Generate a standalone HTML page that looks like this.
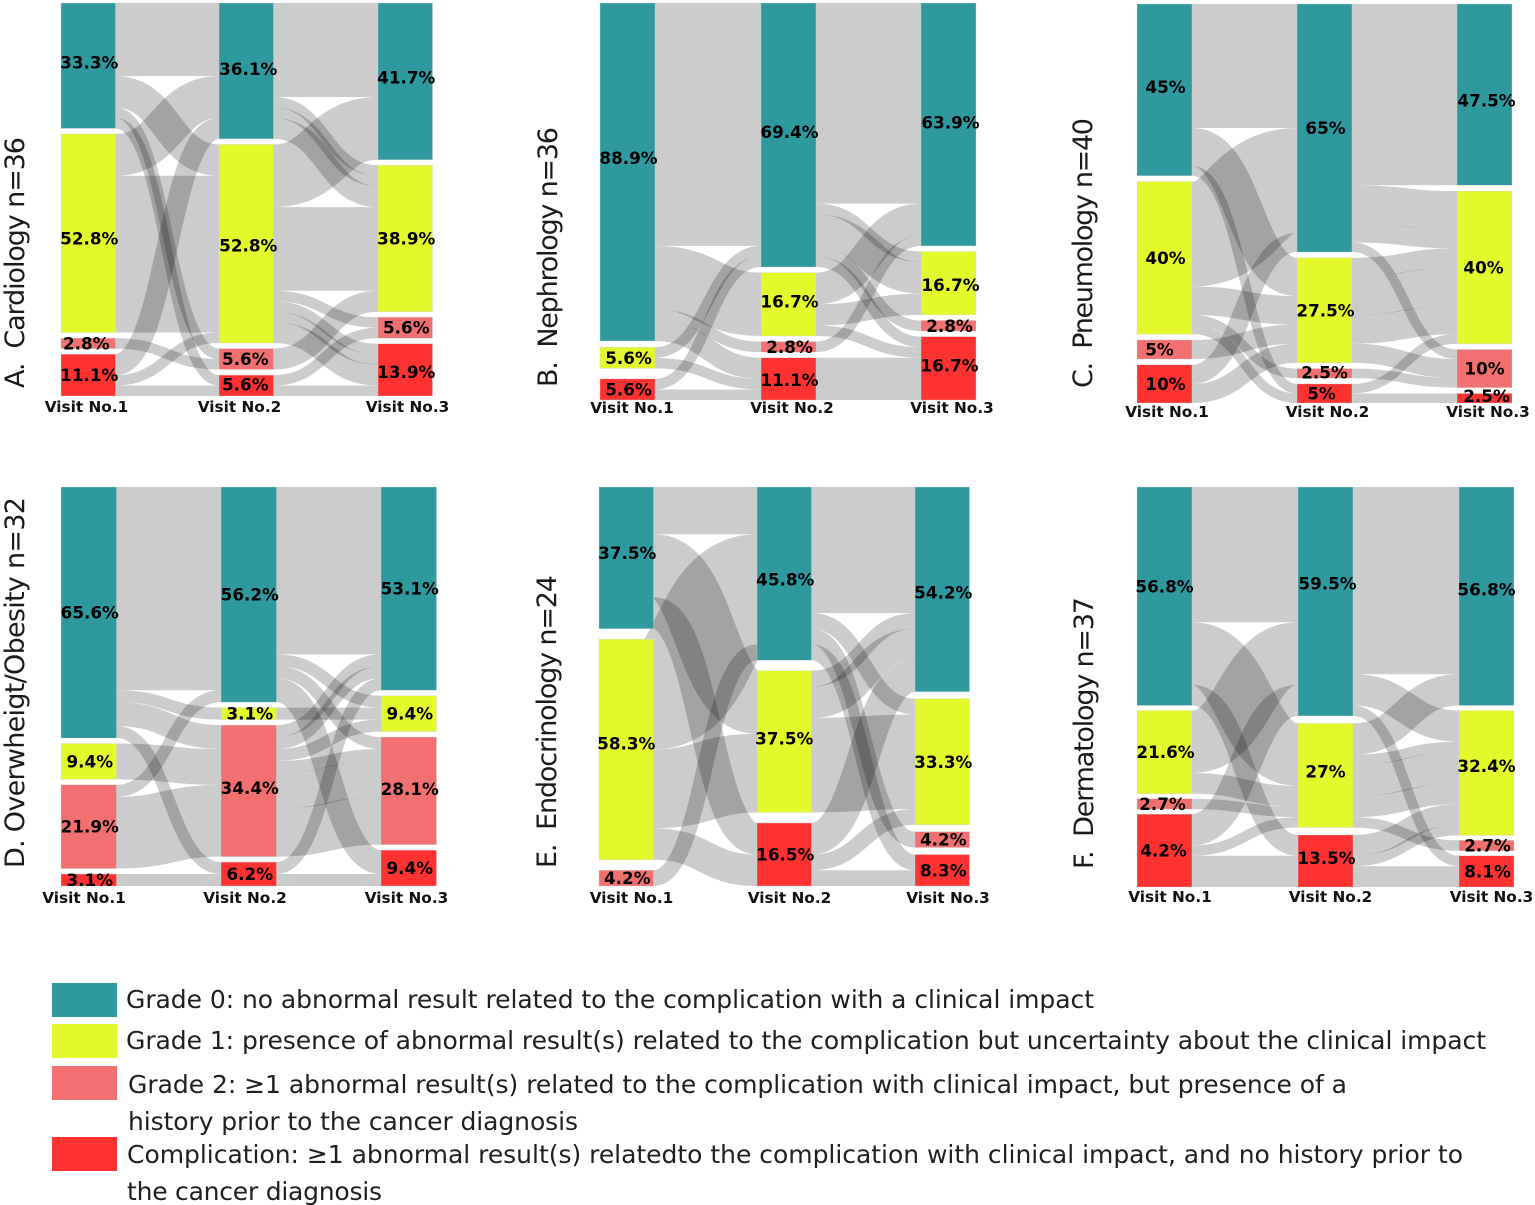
<!DOCTYPE html>
<html lang="en">
<head>
<meta charset="utf-8">
<title>Sankey diagrams of complication grades across three visits</title>
<style>
html,body{margin:0;padding:0;background:#fff;}
svg{display:block;}
.title{font-family:"DejaVu Sans",sans-serif;font-size:27px;fill:#1a1a1a;}
.legend-text{font-family:"DejaVu Sans",sans-serif;font-size:25px;fill:#1f1f1f;}
.visit{font-family:"DejaVu Sans",sans-serif;font-weight:bold;font-size:15.3px;fill:#111;text-anchor:middle;}
.pct{font-family:"DejaVu Sans",sans-serif;font-weight:bold;font-size:16.8px;fill:#000;text-anchor:middle;}
</style>
</head>
<body>
<svg id="chart" xmlns="http://www.w3.org/2000/svg" width="1535" height="1205" viewBox="0 0 1535 1205">
  <rect x="0" y="0" width="1535" height="1205" fill="#ffffff"/>

  <text class="title" transform="translate(24,388) rotate(-90)" textLength="251" xml:space="preserve">A.  Cardiology n=36</text>
  <text class="title" transform="translate(557,387) rotate(-90)" textLength="260" xml:space="preserve">B.  Nephrology n=36</text>
  <text class="title" transform="translate(1092,388) rotate(-90)" textLength="270" xml:space="preserve">C.  Pneumology n=40</text>
  <text class="title" transform="translate(24,868) rotate(-90)" textLength="371" xml:space="preserve">D. Overwheigt/Obesity n=32</text>
  <text class="title" transform="translate(556,868) rotate(-90)" textLength="293" xml:space="preserve">E.  Endocrinology n=24</text>
  <text class="title" transform="translate(1093,869) rotate(-90)" textLength="272" xml:space="preserve">F.  Dermatology n=37</text>

  <g id="panels"></g>

  <g>
    <rect x="52" y="983" width="65" height="34" fill="#2e9aa0"/>
    <rect x="52" y="1024" width="65" height="34" fill="#e4f92b"/>
    <rect x="52" y="1066" width="65" height="34" fill="#f27070"/>
    <rect x="52" y="1137" width="65" height="34" fill="#ff3232"/>
    <text class="legend-text" x="126" y="1008" textLength="968">Grade 0: no abnormal result related to the complication with a clinical impact</text>
    <text class="legend-text" x="126" y="1049" textLength="1360">Grade 1: presence of abnormal result(s) related to the complication but uncertainty about the clinical impact</text>
    <text class="legend-text" x="128" y="1093" textLength="1219">Grade 2: ≥1 abnormal result(s) related to the complication with clinical impact, but presence of a</text>
    <text class="legend-text" x="128" y="1130" textLength="450">history prior to the cancer diagnosis</text>
    <text class="legend-text" x="127" y="1163" textLength="1336">Complication: ≥1 abnormal result(s) relatedto the complication with clinical impact, and no history prior to</text>
    <text class="legend-text" x="127" y="1200" textLength="255">the cancer diagnosis</text>
  </g>
</svg>

<script>
/* ---------- data: patient flows [fromGrade, toGrade, patients], grades 0..3 ---------- */
const visitLabels = ["Visit No.1", "Visit No.2", "Visit No.3"];
const gradeKeys = ["grade-0", "grade-1", "grade-2", "complication"];

const cardiologyFlows1 = [[0,0,7],[0,1,3],[0,2,1],[0,3,1],[1,0,4],[1,1,15],[2,2,1],[3,0,2],[3,1,1],[3,3,1]];
const cardiologyFlows2 = [[0,0,9],[0,1,1],[0,1,1],[0,1,2],[1,0,6],[1,1,8],[1,2,1],[1,3,1],[1,3,1],[1,3,2],[2,1,2],[3,2,1],[3,3,1]];
const cardiologyLabels = [["33.3%","52.8%","2.8%","11.1%"],["36.1%","52.8%","5.6%","5.6%"],["41.7%","38.9%","5.6%","13.9%"]];

const nephrologyFlows1 = [[0,0,23],[0,1,6],[0,2,1],[0,3,2],[1,0,1],[1,3,1],[3,0,1],[3,3,1]];
const nephrologyFlows2 = [[0,0,19],[0,1,1],[0,1,3],[0,2,1],[0,3,1],[1,0,3],[1,1,2],[1,3,1],[2,0,1],[3,3,4]];
const nephrologyLabels = [["88.9%","5.6%","","5.6%"],["69.4%","16.7%","2.8%","11.1%"],["63.9%","16.7%","2.8%","16.7%"]];

const pneumologyFlows1 = [[0,0,13],[0,1,4],[0,3,1],[1,0,11],[1,1,3],[1,2,1],[1,3,1],[2,1,2],[3,0,2],[3,1,2]];
const pneumologyFlows2 = [[0,0,19],[0,1,4],[0,1,2],[0,2,1],[1,1,2],[1,1,4],[1,1,3],[1,2,2],[2,2,1],[3,1,1],[3,3,1]];
const pneumologyLabels = [["45%","40%","5%","10%"],["65%","27.5%","2.5%","5%"],["47.5%","40%","10%","2.5%"]];

const obesityFlows1 = [[0,0,17],[0,1,1],[0,2,2],[0,3,1],[1,2,3],[2,0,1],[2,2,6],[3,3,1]];
const obesityFlows2 = [[0,0,14],[0,1,1],[0,2,1],[0,3,2],[1,1,1],[2,0,1],[2,0,1],[2,1,1],[2,2,1],[2,2,3],[2,2,4],[3,0,1],[3,3,1]];
const obesityLabels = [["65.6%","9.4%","21.9%","3.1%"],["56.2%","3.1%","34.4%","6.2%"],["53.1%","9.4%","28.1%","9.4%"]];

const endocrinologyFlows1 = [[0,0,3],[0,1,4],[0,3,2],[1,0,7],[1,1,5],[1,3,2],[2,0,1]];
const endocrinologyFlows2 = [[0,0,8],[0,1,1],[0,2,1],[0,3,1],[1,0,1],[1,0,2],[1,1,6],[3,0,2],[3,1,1],[3,3,1]];
const endocrinologyLabels = [["37.5%","58.3%","4.2%",""],["45.8%","37.5%","","16.5%"],["54.2%","33.3%","4.2%","8.3%"]];

const dermatologyFlows1 = [[0,0,13],[0,1,6],[0,3,2],[1,0,6],[1,1,2],[2,1,1],[3,0,3],[3,1,1],[3,3,3]];
const dermatologyFlows2 = [[0,0,18],[0,1,3],[0,3,1],[1,0,3],[1,1,1],[1,1,3],[1,1,2],[1,2,1],[3,1,2],[3,1,1],[3,3,2]];
const dermatologyLabels = [["56.8%","21.6%","2.7%","4.2%"],["59.5%","27%","","13.5%"],["56.8%","32.4%","2.7%","8.1%"]];

/* ---------- layout (not data): panel frames and styling ---------- */
const gradeColors = ["#2e9aa0", "#e4f92b", "#f27070", "#ff3232"];
const linkColor = "rgba(0,0,0,0.2)";
const NS = "http://www.w3.org/2000/svg";

const panels = [
  { id:"a", flows:[cardiologyFlows1, cardiologyFlows2], labels:cardiologyLabels,
    cols:[61,219,378], width:54.5, top:3, bottom:396, pad:5.6,
    visitX:[86.5,239.5,407.5], visitY:412,
    nudge:{"0-0":[1,-3],"0-1":[1,5],"0-2":[-2,0],"1-0":[2,-2],"1-1":[2,2],"1-2":[-1,0],"1-3":[-1,-1],"2-0":[1,-4],"2-3":[1,2]} },
  { id:"b", flows:[nephrologyFlows1, nephrologyFlows2], labels:nephrologyLabels,
    cols:[600,761,921], width:55, top:3, bottom:400, pad:5.6,
    visitX:[632,792,952], visitY:413, gapShares:{0:[6,0,10]},
    nudge:{"0-0":[1,-14],"1-0":[1,-3],"1-1":[1,-3],"1-3":[1,1],"2-0":[2,-2],"2-1":[2,2],"2-3":[1,-3]} },
  { id:"c", flows:[pneumologyFlows1, pneumologyFlows2], labels:pneumologyLabels,
    cols:[1137,1297,1457], width:55, top:4, bottom:403, pad:5.8,
    visitX:[1167,1327.5,1488], visitY:417,
    nudge:{"0-0":[1,-3],"0-2":[-5,0],"1-2":[0,-1],"1-3":[-3,0],"2-0":[2,6],"2-1":[-1,0],"2-2":[0,0],"2-3":[2,-2]} },
  { id:"d", flows:[obesityFlows1, obesityFlows2], labels:obesityLabels,
    cols:[61,221,381], width:55.5, top:487, bottom:886, pad:5.5,
    visitX:[84,245,406.5], visitY:903,
    nudge:{"1-2":[1,-3],"2-2":[1,-2]} },
  { id:"e", flows:[endocrinologyFlows1, endocrinologyFlows2], labels:endocrinologyLabels,
    cols:[599,757,915], width:54.5, top:487, bottom:886, pad:7,
    visitX:[631.5,789.5,948], visitY:903,
    nudge:{"0-0":[1,-5],"0-1":[0,-6],"1-0":[1,6],"1-1":[0,-3],"2-0":[1,3]} },
  { id:"f", flows:[dermatologyFlows1, dermatologyFlows2], labels:dermatologyLabels,
    cols:[1137,1298,1459], width:55, top:487, bottom:887, pad:5,
    visitX:[1170,1330.5,1491.5], visitY:902,
    nudge:{"0-0":[0,-10],"0-2":[-2,0],"0-3":[-1,0],"1-0":[2,-18],"1-1":[0,-4],"1-3":[1,-3],"2-0":[0,-7],"2-1":[0,-7]} }
];

/* ---------- drawing ---------- */
function mk(tag, attrs, parent) {
  const el = document.createElementNS(NS, tag);
  for (const k in attrs) el.setAttribute(k, attrs[k]);
  parent.appendChild(el);
  return el;
}
function sumTotals(flows, field) {
  const t = [0, 0, 0, 0];
  flows.forEach(function (f) { t[f[field]] += f[2]; });
  return t;
}
/* y scale: patients to pixels, shared by all columns of a panel */
function patientScale(p, n) {
  return (p.bottom - p.top - 3 * p.pad) / n;
}
/* vertical placement of grade nodes in one column */
function layoutColumn(p, totals, k, scale) {
  const present = [];
  totals.forEach(function (v, g) { if (v > 0) present.push(g); });
  const used = totals.reduce(function (a, b) { return a + b; }, 0) * scale;
  const slack = p.bottom - p.top - used;
  const shares = (p.gapShares && p.gapShares[k]) ? p.gapShares[k].filter(function (s) { return s > 0; }) : null;
  const shareSum = shares ? shares.reduce(function (a, b) { return a + b; }, 0) : 0;
  const nodes = {};
  let y = p.top;
  present.forEach(function (g, i) {
    const h = totals[g] * scale;
    nodes[g] = { y: y, h: h };
    const gap = shares ? slack * (shares[i] || 0) / shareSum : slack / Math.max(1, present.length - 1);
    y += h + gap;
  });
  return nodes;
}
/* centre line of a flow: stroked at its thickness, so width stays constant along the slope */
function ribbon(x0, x1, y0, y1) {
  const xm = (x0 + x1) / 2;
  return "M" + x0 + " " + y0 + "C" + xm + " " + y0 + " " + xm + " " + y1 + " " + x1 + " " + y1;
}

const root = document.getElementById("panels");

panels.forEach(function (p) {
  const g = mk("g", {}, root);
  
  

  const columnTotals = [sumTotals(p.flows[0], 0), sumTotals(p.flows[0], 1), sumTotals(p.flows[1], 1)];
  const n = columnTotals[0].reduce(function (a, b) { return a + b; }, 0);
  const scale = patientScale(p, n);
  const columns = columnTotals.map(function (t, k) { return layoutColumn(p, t, k, scale); });

  /* links */
  p.flows.forEach(function (flows, step) {
    const srcY = {};
    const dstY = {};
    const positions = flows.map(function () { return {}; });
    flows.forEach(function (f, i) {
      const node = columns[step][f[0]];
      if (srcY[f[0]] === undefined) srcY[f[0]] = node.y;
      positions[i].y0 = srcY[f[0]];
      srcY[f[0]] += f[2] * scale;
    });
    const order = flows.map(function (f, i) { return i; }).sort(function (a, b) {
      return (flows[a][0] - flows[b][0]) || (a - b);
    });
    order.forEach(function (i) {
      const f = flows[i];
      const node = columns[step + 1][f[1]];
      if (dstY[f[1]] === undefined) dstY[f[1]] = node.y;
      positions[i].y1 = dstY[f[1]];
      dstY[f[1]] += f[2] * scale;
    });
    flows.forEach(function (f, i) {
      const x0 = p.cols[step] + p.width;
      const x1 = p.cols[step + 1];
      const thick = f[2] * scale;
      const link = mk("path", {
        d: ribbon(x0, x1, positions[i].y0 + thick / 2, positions[i].y1 + thick / 2),
        fill: "none", stroke: linkColor, "stroke-width": thick
      }, g);
      
      
    });
  });

  /* nodes and percentage labels */
  columns.forEach(function (nodes, k) {
    Object.keys(nodes).forEach(function (key) {
      const grade = +key;
      const nd = nodes[grade];
      const bar = mk("rect", {
        x: p.cols[k], y: nd.y, width: p.width, height: nd.h,
        fill: gradeColors[grade], stroke: "rgba(210,210,210,0.7)", "stroke-width": 0.5
      }, g);
      
      
    });
  });
  columns.forEach(function (nodes, k) {
    Object.keys(nodes).forEach(function (key) {
      const grade = +key;
      const nd = nodes[grade];
      const shift = p.nudge[k + "-" + grade] || [1, 0];
      const label = mk("text", {
        class: "pct",
        x: p.cols[k] + p.width / 2 + shift[0],
        y: nd.y + nd.h / 2 + shift[1] + 6
      }, g);
      label.textContent = p.labels[k][grade];
      
      
    });
  });

  /* visit axis labels */
  visitLabels.forEach(function (name, k) {
    const vis = mk("text", { class: "visit", x: p.visitX[k], y: p.visitY }, g);
    vis.textContent = name;
    
    
  });
});
</script>
</body>
</html>
